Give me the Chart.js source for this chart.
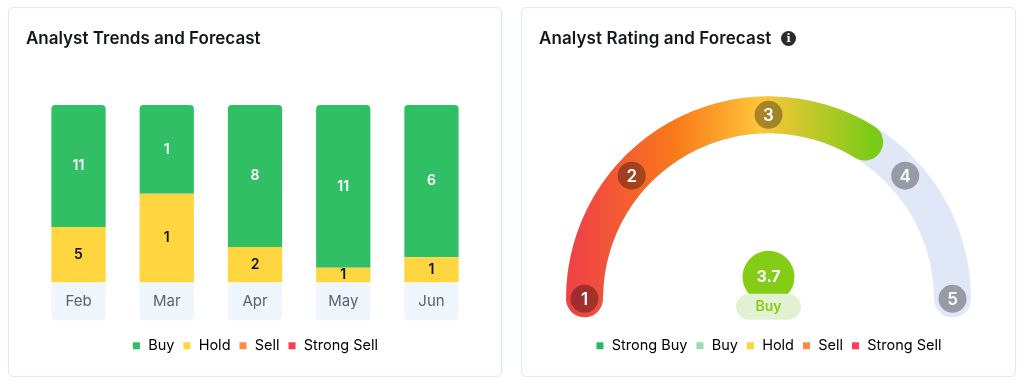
<!DOCTYPE html>
<html>
<head>
<meta charset="utf-8">
<script src="https://cdn.jsdelivr.net/npm/chart.js@4"></script>
<style>
  html, body { margin: 0; background: #fff; }
  body { width: 1024px; height: 387px; position: relative; overflow: hidden; font-family: Inter, sans-serif; }
  .card { position: absolute; top: 7px; height: 370px; box-sizing: border-box; border: 1px solid #dfe8f7; border-radius: 5px; }
  .card canvas { position: absolute; left: -1px; top: -1px; }
  h2 { position: absolute; top: 20px; left: 17px; margin: 0; font-size: 17px; line-height: 20px; font-weight: 600; color: #14161c; white-space: nowrap; }
  .info { position: absolute; left: 259px; top: 22.5px; width: 15px; height: 15px; border-radius: 50%; background: #2b2b2b; color: #fff; font: 700 11px/15px "DejaVu Serif", serif; text-align: center; }
</style>
</head>
<body>
<div class="card" style="left:8px;width:494px"><canvas id="trends" width="494" height="370"></canvas><h2>Analyst Trends and Forecast</h2></div>
<div class="card" style="left:521px;width:495px"><canvas id="rating" width="495" height="370"></canvas><h2 style="letter-spacing:0.1px">Analyst Rating and Forecast</h2><span class="info">i</span></div>
<script>
const months = ['Feb', 'Mar', 'Apr', 'May', 'Jun'];
const buy = [11, 1, 8, 11, 6];
const hold = [5, 1, 2, 1, 1];
const sell = [0, 0, 0, 0, 0];
const strongSell = [0, 0, 0, 0, 0];

const ratingLabels = ['Strong Buy', 'Buy', 'Hold', 'Sell', 'Strong Sell'];
const ratingColors = ['#26bd60', '#98ddb5', '#ffd43f', '#ff8c42', '#ff3d55'];
const ratingTicks = [1, 2, 3, 4, 5];
const ratingValue = 3.7;
const ratingText = 'Buy';

const GREEN = '#31bf65', YELLOW = '#ffd540', ORANGE = '#ff8c42', RED = '#ff3d55';
const TEXT_GREY = '#5b6270';
const FONT = 'Inter, sans-serif';

Chart.defaults.font.family = FONT;
Chart.defaults.animation = false;

// bars are 100% stacked, the labels show the real counts
function share(list) {
  return list.map((v, i) => 100 * v / (buy[i] + hold[i] + sell[i] + strongSell[i]));
}

function squareLegend(items) {
  return {
    position: 'bottom',
    labels: {
      boxWidth: 9, boxHeight: 9, padding: 8,
      color: TEXT_GREY,
      font: { size: 14.5 },
      generateLabels: () => items.map(it => ({
        text: it.text, fillStyle: it.color, strokeStyle: '#fff', lineWidth: 2, hidden: false
      }))
    },
    onClick: null
  };
}

// tile behind each month name, same x and width as the bar above it
const monthTiles = {
  id: 'monthTiles',
  beforeDraw(chart) {
    const { ctx, chartArea } = chart;
    ctx.save();
    ctx.fillStyle = '#f0f6fe';
    chart.getDatasetMeta(0).data.forEach(bar => {
      ctx.beginPath();
      ctx.roundRect(bar.x - bar.width / 2, chartArea.bottom, bar.width, 38, [0, 0, 4, 4]);
      ctx.fill();
    });
    ctx.restore();
  }
};

const countLabels = {
  id: 'countLabels',
  afterDatasetsDraw(chart) {
    const { ctx } = chart;
    ctx.save();
    ctx.font = '600 14px ' + FONT;
    ctx.textAlign = 'center';
    ctx.textBaseline = 'middle';
    chart.data.datasets.forEach((ds, d) => {
      ctx.fillStyle = ds.labelColor;
      chart.getDatasetMeta(d).data.forEach((bar, i) => {
        if (!ds.counts[i]) return;
        ctx.fillText(ds.counts[i], bar.x, (bar.y + bar.base) / 2);
      });
    });
    ctx.restore();
  }
};

new Chart(document.getElementById('trends'), {
  type: 'bar',
  data: {
    labels: months,
    datasets: [
      { label: 'Hold', data: share(hold), counts: hold, backgroundColor: YELLOW, labelColor: '#111' },
      { label: 'Buy', data: share(buy), counts: buy, backgroundColor: GREEN, labelColor: '#fff',
        borderRadius: { topLeft: 4, topRight: 4 }, borderSkipped: false },
      { label: 'Sell', data: share(sell), counts: sell, backgroundColor: ORANGE, labelColor: '#111' },
      { label: 'Strong Sell', data: share(strongSell), counts: strongSell, backgroundColor: RED, labelColor: '#fff' }
    ]
  },
  options: {
    responsive: false,
    layout: { padding: { top: 98, left: 26.4, right: 26.4, bottom: 14 } },
    datasets: { bar: { categoryPercentage: 1, barPercentage: 0.615 } },
    scales: {
      x: {
        stacked: true,
        grid: { display: false },
        border: { display: false },
        ticks: { color: TEXT_GREY, font: { size: 15 }, padding: 2 },
        afterFit(scale) { scale.height = 48; }
      },
      y: { stacked: true, display: false, min: 0, max: 100 }
    },
    plugins: {
      tooltip: { enabled: false },
      legend: squareLegend([
        { text: 'Buy', color: GREEN },
        { text: 'Hold', color: YELLOW },
        { text: 'Sell', color: ORANGE },
        { text: 'Strong Sell', color: RED }
      ])
    }
  },
  plugins: [monthTiles, countLabels]
});

// gauge, rating 1 sits at 180deg and rating 5 at 0deg
const OUTER = 202.5, INNER = 165.5;
const CAP = (OUTER - INNER) / 2;
const MID = (OUTER + INNER) / 2;
const first = ratingTicks[0], last = ratingTicks[ratingTicks.length - 1];
const capDeg = (CAP / MID) * 180 / Math.PI;
const degPerRating = 180 / (last - first);
const capUnits = capDeg / degPerRating; // round end reaches this far past the value

function sweepGradient(c) {
  if (c.dataIndex !== 0) return 'rgba(0,0,0,0)';
  const area = c.chart.chartArea;
  if (!area) return '#f97316';
  const g = c.chart.ctx.createLinearGradient(area.left, 0, area.right, 0);
  g.addColorStop(0.03, '#ef4444');
  g.addColorStop(0.27, '#f97a1a');
  g.addColorStop(0.48, '#ffc53a');
  g.addColorStop(0.76, '#78cc16');
  return g;
}

const sameRing = {
  id: 'sameRing',
  afterDatasetsUpdate(chart) {
    chart.data.datasets.forEach((ds, d) => {
      chart.getDatasetMeta(d).data.forEach(arc => {
        arc.innerRadius = INNER;
        arc.outerRadius = OUTER;
      });
    });
  }
};

const gaugeBadges = {
  id: 'gaugeBadges',
  afterDatasetsDraw(chart) {
    const { ctx } = chart;
    const { x: cx, y: cy } = chart.getDatasetMeta(0).data[0];
    const nudge = [0, 3, 0, -3, 0];
    ctx.save();
    ctx.textAlign = 'center';
    ctx.textBaseline = 'middle';
    ratingTicks.forEach((r, i) => {
      const a = (180 - (r - first) * degPerRating + nudge[i]) * Math.PI / 180;
      const x = cx + MID * Math.cos(a), y = cy - MID * Math.sin(a);
      ctx.fillStyle = 'rgba(0,0,0,0.33)';
      ctx.beginPath();
      ctx.arc(x, y, 14, 0, Math.PI * 2);
      ctx.fill();
      ctx.fillStyle = '#fff';
      ctx.font = '600 17px ' + FONT;
      ctx.fillText(r, x, y + 1);
    });

    // value bubble and its pill
    ctx.fillStyle = '#84cc16';
    ctx.beginPath();
    ctx.arc(cx, cy - 22, 26, 0, Math.PI * 2);
    ctx.fill();
    ctx.fillStyle = '#fff';
    ctx.font = '700 16px ' + FONT;
    ctx.fillText(ratingValue.toFixed(1), cx, cy - 22);
    ctx.fillStyle = '#e3f1d3';
    ctx.beginPath();
    ctx.roundRect(cx - 32.5, cy - 5, 65, 26, 13);
    ctx.fill();
    ctx.fillStyle = '#84cc16';
    ctx.font = '600 14px ' + FONT;
    ctx.fillText(ratingText, cx, cy + 8);
    ctx.restore();
  }
};

new Chart(document.getElementById('rating'), {
  type: 'doughnut',
  data: {
    labels: ['Rating', 'Rest'],
    datasets: [
      { data: [ratingValue - first + 2 * capUnits, last - ratingValue],
        backgroundColor: sweepGradient,
        borderWidth: 0, borderRadius: [CAP, 0] },
      { data: [last - first + 2 * capUnits],
        backgroundColor: ['#e0e8f7'],
        borderWidth: 0, borderRadius: CAP }
    ]
  },
  options: {
    responsive: false,
    rotation: -90 - capDeg,
    circumference: 180 + 2 * capDeg,
    radius: OUTER,
    cutout: '82%',
    layout: { padding: { top: 78, left: 45.5, right: 45.5, bottom: 14 } },
    plugins: {
      tooltip: { enabled: false },
      legend: squareLegend(ratingLabels.map((t, i) => ({ text: t, color: ratingColors[i] })))
    }
  },
  plugins: [sameRing, gaugeBadges]
});
</script>
</body>
</html>
